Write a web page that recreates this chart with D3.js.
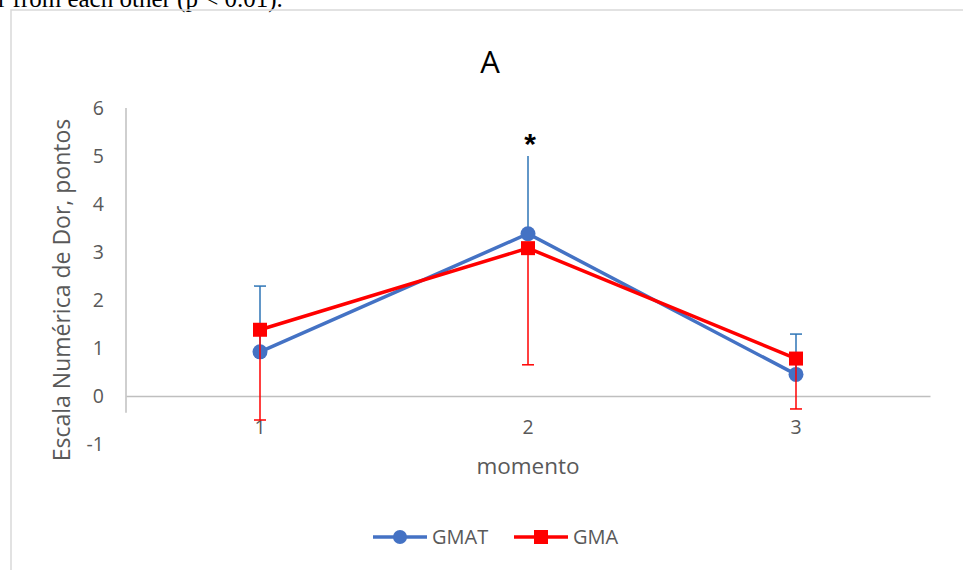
<!DOCTYPE html>
<html>
<head>
<meta charset="utf-8">
<script src="https://cdn.jsdelivr.net/npm/d3@7"></script>
<style>
  html, body { margin: 0; padding: 0; background: #fff; }
  svg { display: block; }
</style>
</head>
<body>
<svg id="chart" width="963" height="570"></svg>
<script>
// Pain scale by moment, two groups (mean with one-sided error bars)
const moments = [1, 2, 3];
const yTicks = [-1, 0, 1, 2, 3, 4, 5, 6];
const seriesNames = ["GMAT", "GMA"];
const gmatMean = [0.92, 3.38, 0.45];
const gmatErrUp = [1.37, 1.62, 0.84];
const gmaMean = [1.38, 3.08, 0.78];
const gmaErrDown = [1.88, 2.43, 1.05];
const starMoment = 2;

const svg = d3.select("#chart");
const font = "'Open Sans', Lato, sans-serif";
const textGrey = "#595959";
const blue = "#4472C4";
const blueErr = "#2E75B6";
const red = "#FF0000";

// sentence fragment from the surrounding document, partly cut off at the top
svg.append("text")
  .attr("x", -2).attr("y", 7)
  .attr("font-family", "'Liberation Serif', 'Times New Roman', serif")
  .attr("font-size", 25)
  .attr("fill", "#000")
  .text("r from each other (p < 0.01).");

// chart frame
svg.append("rect")
  .attr("x", 11).attr("y", 10)
  .attr("width", 970).attr("height", 580)
  .attr("fill", "none")
  .attr("stroke", "#d9d9d9")
  .attr("stroke-width", 1.5);

const x = d3.scaleBand().domain(moments).range([126, 930]).padding(0);
const cx = d => x(d) + x.bandwidth() / 2;
const y = d3.scaleLinear().domain([-1, 6]).range([444, 108]);

// title
svg.append("text")
  .attr("x", 490).attr("y", 73)
  .attr("text-anchor", "middle")
  .attr("font-family", font)
  .attr("font-size", 31)
  .attr("fill", "#000")
  .text("A");

// y axis labels (plain hyphen for negatives)
const yAxis = d3.axisLeft(y).tickValues(yTicks).tickSize(0).tickPadding(22).tickFormat(d => String(d));
const gy = svg.append("g").attr("transform", "translate(126,0)").call(yAxis);
gy.select(".domain").remove();
gy.selectAll("text").attr("font-family", font).attr("font-size", 19.5).attr("fill", textGrey);

// y axis line
svg.append("line")
  .attr("x1", 126).attr("x2", 126)
  .attr("y1", y(6)).attr("y2", y(-0.35))
  .attr("stroke", "#bfbfbf").attr("stroke-width", 1.5);

// x axis (crosses at zero)
const xAxis = d3.axisBottom(x).tickSize(0).tickPadding(24);
const gx = svg.append("g").attr("transform", `translate(0,${y(0)})`).call(xAxis);
gx.select(".domain").attr("stroke", "#bfbfbf").attr("stroke-width", 1.5);
gx.selectAll("text").attr("font-family", font).attr("font-size", 19.5).attr("fill", textGrey);

// axis titles
svg.append("text")
  .attr("transform", `translate(70,${(y(6) + y(-1)) / 2 + 14}) rotate(-90)`)
  .attr("text-anchor", "middle")
  .attr("font-family", font)
  .attr("font-size", 23)
  .attr("fill", textGrey)
  .text("Escala Numérica de Dor, pontos");

svg.append("text")
  .attr("x", cx(2)).attr("y", 474)
  .attr("text-anchor", "middle")
  .attr("font-family", font)
  .attr("font-size", 22.5)
  .attr("fill", textGrey)
  .text("momento");

const line = d3.line().x((d, i) => cx(moments[i])).y(d => y(d));

// GMAT: upward error bars
const gBlue = svg.append("g");
moments.forEach((m, i) => {
  const top = gmatMean[i] + gmatErrUp[i];
  gBlue.append("line")
    .attr("x1", cx(m)).attr("x2", cx(m))
    .attr("y1", y(gmatMean[i])).attr("y2", y(top))
    .attr("stroke", blueErr).attr("stroke-width", 1.5);
  if (m !== starMoment) {
    gBlue.append("line")
      .attr("x1", cx(m) - 6).attr("x2", cx(m) + 6)
      .attr("y1", y(top)).attr("y2", y(top))
      .attr("stroke", blueErr).attr("stroke-width", 1.5);
  }
});
gBlue.append("path")
  .datum(gmatMean)
  .attr("d", line)
  .attr("fill", "none")
  .attr("stroke", blue)
  .attr("stroke-width", 3.5);
gBlue.selectAll("circle")
  .data(gmatMean)
  .join("circle")
  .attr("cx", (d, i) => cx(moments[i]))
  .attr("cy", d => y(d))
  .attr("r", 7.5)
  .attr("fill", blue);

// GMA: downward error bars
const gRed = svg.append("g");
gRed.append("path")
  .datum(gmaMean)
  .attr("d", line)
  .attr("fill", "none")
  .attr("stroke", red)
  .attr("stroke-width", 3.5);
gRed.selectAll("rect")
  .data(gmaMean)
  .join("rect")
  .attr("x", (d, i) => cx(moments[i]) - 7)
  .attr("y", d => y(d) - 7)
  .attr("width", 14).attr("height", 14)
  .attr("fill", red);
moments.forEach((m, i) => {
  const bottom = gmaMean[i] - gmaErrDown[i];
  gRed.append("line")
    .attr("x1", cx(m)).attr("x2", cx(m))
    .attr("y1", y(gmaMean[i])).attr("y2", y(bottom))
    .attr("stroke", red).attr("stroke-width", 1.5);
  gRed.append("line")
    .attr("x1", cx(m) - 6).attr("x2", cx(m) + 6)
    .attr("y1", y(bottom)).attr("y2", y(bottom))
    .attr("stroke", red).attr("stroke-width", 1.5);
});

// significance marker
svg.append("text")
  .attr("x", cx(starMoment) + 2).attr("y", 154)
  .attr("text-anchor", "middle")
  .attr("font-family", "'Liberation Sans', Arial, sans-serif")
  .attr("font-weight", "bold")
  .attr("font-size", 30)
  .attr("fill", "#000")
  .text("*");

// legend
const legendItems = [
  { name: seriesNames[0], color: blue, shape: "circle", x0: 373 },
  { name: seriesNames[1], color: red, shape: "square", x0: 514 }
];
const lg = svg.append("g");
legendItems.forEach(it => {
  const ly = 537;
  lg.append("line")
    .attr("x1", it.x0).attr("x2", it.x0 + 54)
    .attr("y1", ly).attr("y2", ly)
    .attr("stroke", it.color).attr("stroke-width", 3.5);
  if (it.shape === "circle") {
    lg.append("circle").attr("cx", it.x0 + 27).attr("cy", ly).attr("r", 7).attr("fill", it.color);
  } else {
    lg.append("rect").attr("x", it.x0 + 27 - 7).attr("y", ly - 7).attr("width", 14).attr("height", 14).attr("fill", it.color);
  }
  lg.append("text")
    .attr("x", it.x0 + 59).attr("y", ly + 7)
    .attr("font-family", font)
    .attr("font-size", 20)
    .attr("fill", textGrey)
    .text(it.name);
});
</script>
</body>
</html>
